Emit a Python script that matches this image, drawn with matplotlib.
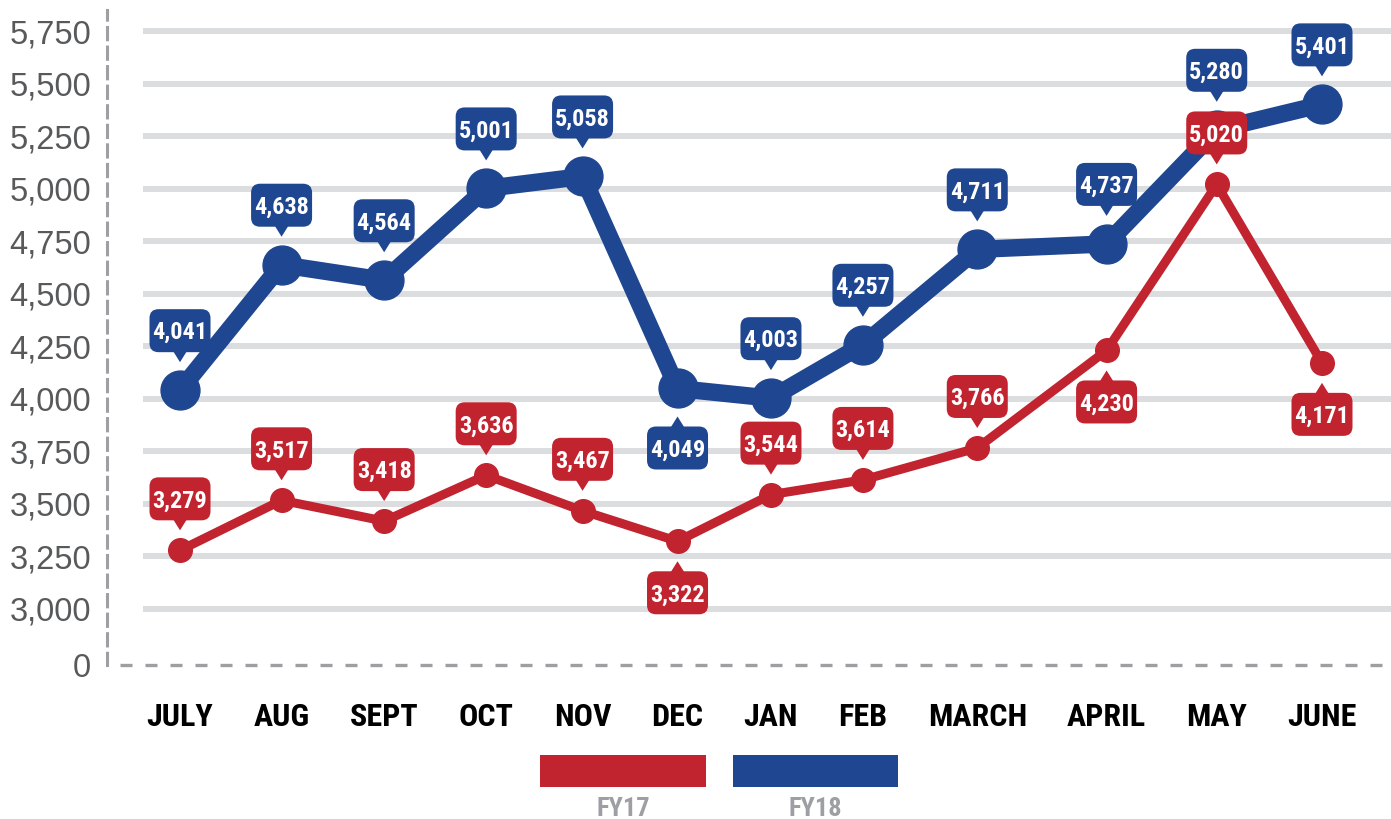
import numpy as np
import matplotlib
matplotlib.use('Agg')
import matplotlib.pyplot as plt
import matplotlib.patches as mpatches
import matplotlib.transforms as mtransforms
from matplotlib import font_manager
from matplotlib.font_manager import FontProperties

# data
months = ['JULY', 'AUG', 'SEPT', 'OCT', 'NOV', 'DEC', 'JAN', 'FEB', 'MARCH', 'APRIL', 'MAY', 'JUNE']
fy17 = [3279, 3517, 3418, 3636, 3467, 3322, 3544, 3614, 3766, 4230, 5020, 4171]
fy18 = [4041, 4638, 4564, 5001, 5058, 4049, 4003, 4257, 4711, 4737, 5280, 5401]
series_names = ['FY17', 'FY18']
y_ticks = [3000, 3250, 3500, 3750, 4000, 4250, 4500, 4750, 5000, 5250, 5500, 5750]

# which callouts sit under their point
fy17_below = ['DEC', 'APRIL', 'JUNE']
fy18_below = ['DEC']

RED = '#c1232f'
BLUE = '#1f4690'
GRID = '#dcdddf'
AXIS = '#9d9fa2'


def condensed_bold():
    # first narrow/condensed family that has a static bold file
    wanted = ['Liberation Sans Narrow', 'Roboto Condensed', 'PT Sans Narrow',
              'Open Sans Condensed', 'Asap Condensed', 'Barlow Semi Condensed', 'Barlow Condensed']
    for fam in wanted:
        for f in font_manager.fontManager.ttflist:
            if f.name == fam and f.weight in (700, 'bold') and f.style == 'normal' \
                    and '[' not in f.fname:
                return f.fname
    return None


COND = condensed_bold()


def cfont(size):
    if COND:
        return FontProperties(fname=COND, size=size)
    return FontProperties(family='Liberation Sans', weight='bold', size=size)


W, H = 1391, 819
fig = plt.figure(figsize=(W / 100, H / 100), dpi=100)
# axes box in pixels: x 107..1391, y 10..665
ax = fig.add_axes([107 / W, (H - 665) / H, (W - 107) / W, (665 - 10) / H])

# broken axis: "0" is drawn just below 3,000
px_per_unit = 52.5 / 250
zero_pos = 3000 - 56 / px_per_unit
top_val = 5750 + 21 / px_per_unit
ax.set_ylim(zero_pos, top_val)

# x positions: month labels set out like a row of words with equal spacing
xfont = cfont(23)
renderer = fig.canvas.get_renderer()
widths = []
for m in months:
    t = fig.text(0, 0, m, fontproperties=xfont)
    widths.append(t.get_window_extent(renderer).width)
    t.remove()
half = np.array(widths) / 2
steps = half[:-1] + half[1:]
span = 1322 - 180
gap = (span - steps.sum()) / (len(months) - 1)
xpos = np.concatenate([[0], np.cumsum(steps + gap)])
ax.set_xlim(-(180 - 107), xpos[-1] + (W - 1322))
x_lo, x_hi = ax.get_xlim()

# gridlines
ax.hlines(y_ticks, xpos[0] - 37, x_hi, colors=GRID, linewidth=4.3, zorder=1)

# dashed base line at the "0" level
ax.plot([xpos[0] - 60, x_hi], [zero_pos, zero_pos], color=AXIS, lw=2.4,
        linestyle=(0, (3.6, 3.9)), clip_on=False, zorder=2, solid_capstyle='butt')

for s in ['top', 'right', 'bottom']:
    ax.spines[s].set_visible(False)
ax.spines['left'].set_color(AXIS)
ax.spines['left'].set_linewidth(2.2)
ax.spines['left'].set_linestyle((0, (4, 2.4)))

ax.set_yticks([zero_pos] + y_ticks)
ax.set_yticklabels(['0'] + [f'{v:,}' for v in y_ticks], family='Liberation Sans', size=23.5,
                   color='#58595b')
ax.tick_params(axis='y', length=0, pad=11.5)
ax.set_xticks(xpos)
ax.set_xticklabels(months, fontproperties=xfont, color='black')
ax.tick_params(axis='x', length=0, pad=27)
ax.set_facecolor('white')

# lines
ax.plot(xpos, fy18, color=BLUE, lw=12.5, marker='o', ms=28, zorder=3, solid_capstyle='round')
ax.plot(xpos, fy17, color=RED, lw=6.5, marker='o', ms=17, zorder=4, solid_capstyle='round')

bfont = cfont(17.5)


def callout(x, y, value, color, radius, above):
    # speech bubble in pixel units around the data point
    trans = mtransforms.Affine2D() + mtransforms.ScaledTranslation(x, y, ax.transData)
    sgn = 1 if above else -1
    tip = radius + 8
    tri_h, bw, bh = 10, 61, 43
    base = tip + tri_h
    y0 = base if above else -(base + bh)
    box = mpatches.FancyBboxPatch((-bw / 2, y0), bw, bh,
                                  boxstyle='round,pad=0,rounding_size=9',
                                  fc=color, ec='none', transform=trans, zorder=6)
    tri = mpatches.Polygon([(-7.5, sgn * (base + 2)), (7.5, sgn * (base + 2)), (0, sgn * tip)],
                           closed=True, fc=color, ec='none', transform=trans, zorder=6)
    ax.add_patch(box)
    ax.add_patch(tri)
    ax.text(0, y0 + bh / 2 - 8.5, f'{value:,}', transform=trans, ha='center', va='baseline',
            fontproperties=bfont, color='white', zorder=7)


for m, x, v in zip(months, xpos, fy18):
    callout(x, v, v, BLUE, 20, m not in fy18_below)
for m, x, v in zip(months, xpos, fy17):
    callout(x, v, v, RED, 12, m not in fy17_below)

# legend: colour bars with the series name underneath
lfont = cfont(19)
for name, color, (l, r) in zip(series_names, [RED, BLUE], [(540, 706), (733, 898)]):
    fig.add_artist(mpatches.Rectangle((l / W, 1 - 787 / H), (r - l) / W, 32 / H,
                                      transform=fig.transFigure, fc=color, ec='none'))
    fig.text((l + r) / 2 / W, 1 - 816 / H, name, ha='center', va='baseline',
             fontproperties=lfont, color=AXIS)

fig.savefig('out.png', dpi=100, facecolor='white')
